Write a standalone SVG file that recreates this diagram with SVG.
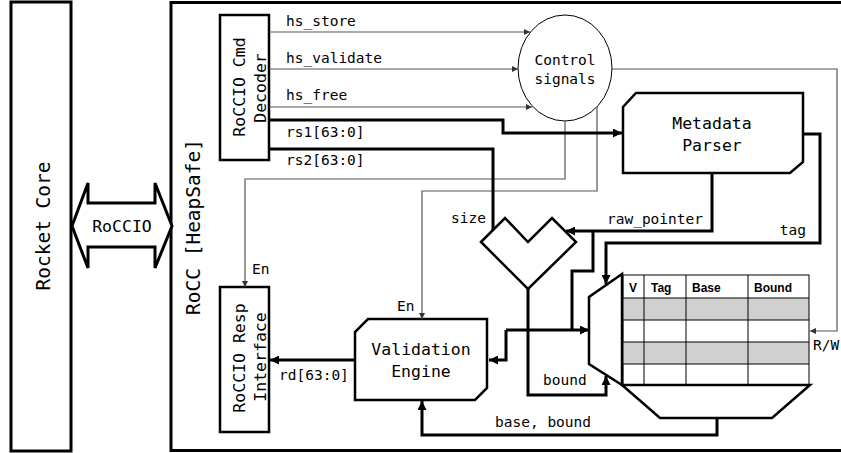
<svg xmlns="http://www.w3.org/2000/svg" width="841" height="453" viewBox="0 0 841 453">
<style>
.box{fill:#fff;stroke:#000;stroke-width:2.5}
.thick{fill:none;stroke:#000;stroke-width:3}
.thin{fill:none;stroke:#555;stroke-width:1.2}
.lbl{font-family:"DejaVu Sans Mono","Liberation Mono",monospace;font-size:14.5px;fill:#000}
.node{font-family:"DejaVu Sans Mono","Liberation Mono",monospace;font-size:16.5px;fill:#000;text-anchor:middle}
.big{font-family:"DejaVu Sans Mono","Liberation Mono",monospace;font-size:19.5px;fill:#000;text-anchor:middle}
.hdr{font-family:"Liberation Sans",Arial,sans-serif;font-size:12px;font-weight:bold;fill:#000}
.cell{fill:none;stroke:#000;stroke-width:1}
</style>
<defs>
<marker id="ah" viewBox="0 0 10 10" markerWidth="10" markerHeight="9" refX="10" refY="5" orient="auto" markerUnits="userSpaceOnUse"><path d="M0,0 L10,5 L0,10 z" fill="#000"/></marker>
<marker id="at" viewBox="0 0 10 10" markerWidth="7" markerHeight="6" refX="10" refY="5" orient="auto" markerUnits="userSpaceOnUse"><path d="M0,0 L10,5 L0,10 z" fill="#333"/></marker>
</defs>
<rect width="841" height="453" fill="#fff"/>
<g id="rocket-core">
<rect x="11" y="2" width="60" height="449" fill="#fff" stroke="#000" stroke-width="3"/>
<text class="big" transform="translate(50,226) rotate(-90)">Rocket Core</text>
</g>
<g id="rocc">
<rect x="171" y="2.5" width="700" height="448" fill="#fff" stroke="#000" stroke-width="3"/>
<text class="big" transform="translate(200,227) rotate(-90)">RoCC [HeapSafe]</text>
</g>
<g id="roccio">
<polygon points="72,226 88,183 88,203 155,203 155,183 172,226 155,268 155,247 88,247 88,268" fill="#fff" stroke="#000" stroke-width="3"/>
<text class="node" x="122" y="232">RoCCIO</text>
</g>
<g id="cmd-decoder">
<rect class="box" x="220" y="15" width="49" height="145"/>
<text class="node" transform="translate(245,87) rotate(-90)">RoCCIO Cmd</text>
<text class="node" transform="translate(266,88) rotate(-90)">Decoder</text>
</g>
<g id="resp-interface">
<rect class="box" x="220" y="287" width="49" height="145"/>
<text class="node" transform="translate(245,358) rotate(-90)">RoCCIO Resp</text>
<text class="node" transform="translate(266,357) rotate(-90)">Interface</text>
</g>
<g id="control-signals">
<ellipse cx="565" cy="68" rx="47" ry="53" fill="#fff" stroke="#000" stroke-width="1"/>
<text class="lbl" x="565" y="65" text-anchor="middle">Control</text>
<text class="lbl" x="565" y="84" text-anchor="middle">signals</text>
</g>
<g id="metadata-parser">
<polygon class="box" points="636,93 803,93 803,162 790,173 623,173 623,107"/>
<text class="node" x="712" y="129">Metadata</text>
<text class="node" x="712" y="151">Parser</text>
</g>
<g id="validation-engine">
<polygon class="box" points="368,319 487,319 487,388 475,400 355,400 355,332"/>
<text class="node" x="421" y="355">Validation</text>
<text class="node" x="421" y="377">Engine</text>
</g>
<g id="adder">
<polygon class="box" points="481,242 505,218 528,242 552,218 576,242 528,289"/>
</g>
<g id="metadata-table">
<polygon class="box" points="622,274 589,297 589,364 622,385"/>
<rect x="623" y="298" width="186" height="22" fill="#d0d0d0"/>
<rect x="623" y="342" width="186" height="22" fill="#d0d0d0"/>
<rect class="cell" x="623" y="275" width="186" height="110"/>
<line class="cell" x1="623" y1="298" x2="809" y2="298"/>
<line class="cell" x1="623" y1="320" x2="809" y2="320"/>
<line class="cell" x1="623" y1="342" x2="809" y2="342"/>
<line class="cell" x1="623" y1="364" x2="809" y2="364"/>
<line class="cell" x1="644" y1="275" x2="644" y2="385" stroke="#555"/>
<line class="cell" x1="686" y1="275" x2="686" y2="385"/>
<line class="cell" x1="748" y1="275" x2="748" y2="385"/>
<text class="hdr" x="629" y="292">V</text>
<text class="hdr" x="651" y="292">Tag</text>
<text class="hdr" x="692" y="292">Base</text>
<text class="hdr" x="754" y="292">Bound</text>
<polygon class="box" points="622,385 810,385 772,418 660,418"/>
</g>
<g id="connectors">
<path class="thin" d="M269,32 H530" marker-end="url(#at)"/>
<path class="thin" d="M269,69 H518" marker-end="url(#at)"/>
<path class="thin" d="M269,107 H532" marker-end="url(#at)"/>
<path class="thin" d="M612,69 H837 V331 H810" marker-end="url(#at)"/>
<path class="thin" d="M565,121 V179 H245 V287" marker-end="url(#at)"/>
<path class="thin" d="M597,107 V191 H422 V319" marker-end="url(#at)"/>
<path class="thick" d="M269,120 H503 V133 H622" marker-end="url(#ah)"/>
<path class="thick" d="M269,149 H493 V230"/>
<path class="thick" d="M712,173 V231 H566" marker-end="url(#ah)"/>
<path class="thick" d="M593,231 V271 H572 V330"/>
<path class="thick" d="M506,330 H589" marker-end="url(#ah)"/>
<path class="thick" d="M506,330 V360 H489" marker-end="url(#ah)"/>
<path class="thick" d="M803,134 H820 V243 H606 V284" marker-end="url(#ah)"/>
<path class="thick" d="M528,289 V395 H606 V376" marker-end="url(#ah)"/>
<path class="thick" d="M717,418 V435 H422 V401" marker-end="url(#ah)"/>
<path class="thick" d="M355,360 H270" marker-end="url(#ah)"/>
<text class="lbl" x="286" y="26">hs_store</text>
<text class="lbl" x="286" y="63">hs_validate</text>
<text class="lbl" x="286" y="100">hs_free</text>
<text class="lbl" x="286" y="137">rs1[63:0]</text>
<text class="lbl" x="286" y="165">rs2[63:0]</text>
<text class="lbl" x="486" y="223" text-anchor="end">size</text>
<text class="lbl" x="703" y="224" text-anchor="end">raw_pointer</text>
<text class="lbl" x="806" y="235" text-anchor="end">tag</text>
<text class="lbl" x="813" y="350">R/W</text>
<text class="lbl" x="252" y="274">En</text>
<text class="lbl" x="397" y="311">En</text>
<text class="lbl" x="279" y="380">rd[63:0]</text>
<text class="lbl" x="543" y="385">bound</text>
<text class="lbl" x="495" y="427">base, bound</text>
</g>
</svg>
